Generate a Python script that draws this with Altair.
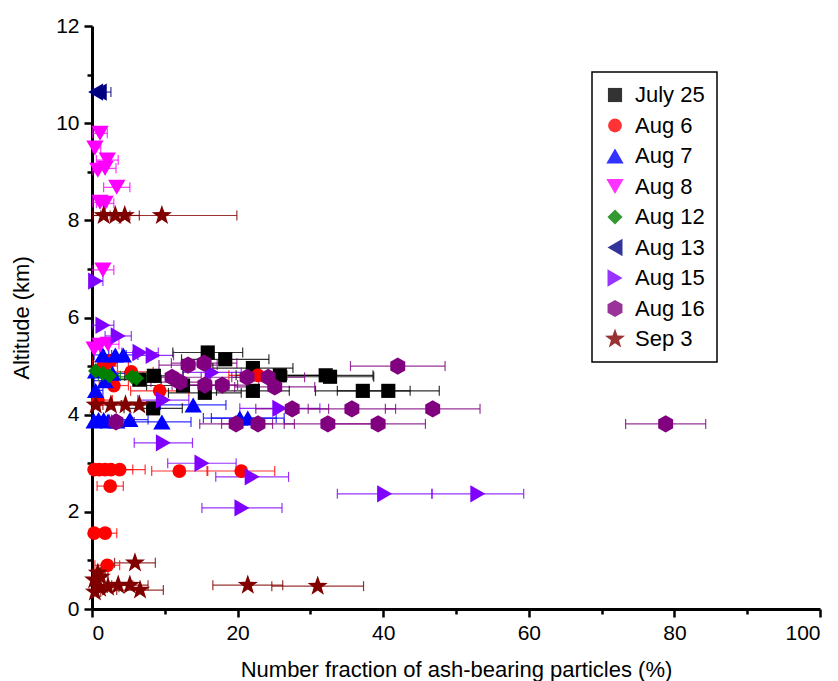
import altair as alt
import pandas as pd

series = ["July 25", "Aug 6", "Aug 7", "Aug 8", "Aug 12", "Aug 13", "Aug 15", "Aug 16", "Sep 3"]
colors = ["#000000", "#ff0000", "#0000ff", "#ff00ff", "#008000", "#000080", "#8000ff", "#800080", "#800000"]
HEX = "M0,-1.3L1.13,-0.65L1.13,0.65L0,1.3L-1.13,0.65L-1.13,-0.65Z"
STAR = ("M0,-1.6L0.376,-0.518L1.522,-0.494L0.608,0.198L0.941,1.294L0,0.64"
        "L-0.941,1.294L-0.608,0.198L-1.522,-0.494L-0.376,-0.518Z")
shapes = ["square", "circle", "triangle-up", "triangle-down", "diamond",
          "triangle-left", "triangle-right", HEX, STAR]
sizes = [200, 190, 300, 300, 230, 300, 300, 175, 175]

jul25_x = [15.9, 18.3, 22.1, 25.8, 32.1, 32.7, 37.2, 40.7, 22.1, 15.5, 8.4, 8.5, 6.5, 12.5]
jul25_y = [5.28, 5.14, 4.96, 4.81, 4.81, 4.78, 4.49, 4.49, 4.49, 4.45, 4.13, 4.80, 4.72, 4.60]
jul25_e = [4.8, 6.0, 5.5, 6.0, 6.5, 6.0, 6.5, 7.0, 5.0, 5.0, 4.0, 4.0, 3.0, 5.0]

aug6_x = [0.3, 1.0, 1.8, 2.6, 3.8, 12.0, 20.5, 2.5, 0.3, 1.8, 2.1, 9.3, 22.8, 1.5, 3.0, 0.8, 5.4, 2.5]
aug6_y = [2.87, 2.87, 2.87, 2.87, 2.87, 2.84, 2.84, 2.53, 1.56, 1.56, 0.90, 4.49, 4.81, 5.00, 4.60, 4.30, 4.88, 5.10]
aug6_e = [1.0, 1.5, 2.0, 3.0, 3.5, 3.8, 4.6, 1.8, 1.0, 1.6, 1.7, 4.0, 4.0, 2.0, 2.0, 2.0, 3.0, 2.5]

aug7_x = [0.3, 0.9, 1.6, 2.2, 3.4, 5.2, 9.6, 20.3, 21.4, 13.9, 0.5, 1.5, 3.2, 4.3, 1.8, 0.5, 2.8]
aug7_y = [3.87, 3.90, 3.90, 3.87, 3.87, 3.90, 3.85, 3.93, 3.93, 4.20, 4.90, 5.23, 5.23, 5.23, 4.70, 4.50, 4.85]
aug7_e = [1.0, 1.5, 1.5, 1.5, 2.0, 2.5, 4.0, 5.0, 5.0, 4.5, 1.0, 1.2, 1.5, 2.0, 1.5, 1.0, 2.0]

aug8_x = [1.1, 0.4, 2.1, 1.8, 0.8, 3.4, 1.1, 1.8, 1.5, 1.1, 2.2, 0.3]
aug8_y = [9.79, 9.49, 9.24, 9.07, 9.03, 8.68, 8.37, 8.35, 6.98, 5.43, 5.45, 5.35]
aug8_e = [1.0, 0.8, 1.5, 1.5, 1.0, 1.8, 1.0, 1.2, 1.5, 1.2, 1.5, 0.8]

aug12_x = [0.5, 1.5, 2.4, 5.5, 6.1]
aug12_y = [4.90, 4.85, 4.80, 4.78, 4.75]
aug12_e = [0.8, 1.0, 1.5, 2.0, 2.5]

aug13_x = [0.5, 1.0]
aug13_y = [10.64, 10.64]
aug13_e = [1.0, 1.6]

aug15_x = [1.5, 3.6, 6.6, 8.4, 16.5, 25.8, 9.8, 9.8, 15.1, 22.0, 20.6, 40.2, 53.0, 0.5]
aug15_y = [5.84, 5.62, 5.28, 5.22, 4.87, 4.13, 4.30, 3.42, 3.00, 2.72, 2.08, 2.37, 2.37, 6.75]
aug15_e = [1.5, 1.8, 2.5, 2.8, 4.0, 5.5, 3.5, 4.0, 4.7, 5.0, 5.5, 6.5, 6.3, 1.0]

aug16_x = [42.0, 46.8, 35.7, 27.5, 39.3, 32.4, 22.8, 19.8, 78.8, 13.2, 15.4, 11.0, 12.1, 15.5, 17.9, 21.3, 24.2, 25.1, 3.3]
aug16_y = [5.00, 4.12, 4.12, 4.12, 3.81, 3.81, 3.81, 3.81, 3.81, 5.02, 5.06, 4.77, 4.67, 4.61, 4.61, 4.77, 4.77, 4.57, 3.85]
aug16_e = [6.5, 6.5, 6.0, 5.0, 6.5, 6.0, 5.0, 5.0, 5.5, 4.0, 4.5, 4.0, 4.0, 4.5, 5.0, 5.0, 5.0, 5.5, 2.5]

sep3_x = [1.6, 3.2, 4.5, 9.6, 0.5, 2.6, 4.6, 6.5, 5.9, 21.4, 31.0, 6.6, 5.2, 3.6, 2.2, 1.1, 0.8, 1.2, 0.4, 0.3]
sep3_y = [8.10, 8.10, 8.10, 8.10, 4.20, 4.20, 4.20, 4.20, 0.95, 0.49, 0.47, 0.39, 0.49, 0.49, 0.45, 0.43, 0.74, 0.66, 0.35, 0.60]
sep3_e = [1.5, 2.0, 2.0, 10.3, 1.0, 1.5, 2.0, 2.5, 2.8, 4.8, 6.3, 3.2, 2.5, 2.0, 1.5, 1.0, 1.0, 1.0, 0.8, 0.5]

all_x = [jul25_x, aug6_x, aug7_x, aug8_x, aug12_x, aug13_x, aug15_x, aug16_x, sep3_x]
all_y = [jul25_y, aug6_y, aug7_y, aug8_y, aug12_y, aug13_y, aug15_y, aug16_y, sep3_y]
all_e = [jul25_e, aug6_e, aug7_e, aug8_e, aug12_e, aug13_e, aug15_e, aug16_e, sep3_e]

rows = []
for i, name in enumerate(series):
    for x, y, e in zip(all_x[i], all_y[i], all_e[i]):
        rows.append({"series": name, "order": i, "x": x, "y": y,
                     "lo": max(x - e, 0), "hi": x + e})
df = pd.DataFrame(rows)

FONT = "Liberation Sans"
xs = alt.Scale(domain=[0, 100], nice=False)
ys = alt.Scale(domain=[0, 12], nice=False)
cs = alt.Scale(domain=series, range=colors)

x_axis = alt.Axis(values=list(range(0, 101, 10)),
                  labelExpr="datum.value % 20 === 0 ? datum.label : ''",
                  tickSize={"condition": {"test": "datum.value % 20 === 0", "value": 8}, "value": 5},
                  title="Number fraction of ash-bearing particles (%)", titlePadding=16)
y_axis = alt.Axis(values=list(range(0, 13, 1)),
                  labelExpr="datum.value % 2 === 0 ? datum.label : ''",
                  tickSize={"condition": {"test": "datum.value % 2 === 0", "value": 8}, "value": 5},
                  title="Altitude (km)", titlePadding=22)

legend = alt.Legend(title=None, orient="none", legendX=500, legendY=46,
                    strokeColor="#000000", fillColor="#ffffff", padding=12,
                    rowPadding=8.5, labelFontSize=22, labelFont=FONT,
                    symbolSize=95, labelOffset=9, symbolStrokeWidth=0)

base = alt.Chart(df)

bars = base.mark_rule(strokeWidth=1.2, opacity=0.8, clip=True).encode(
    x=alt.X("lo:Q", scale=xs, axis=x_axis),
    x2="hi:Q",
    y=alt.Y("y:Q", scale=ys, axis=y_axis),
    color=alt.Color("series:N", scale=cs, sort=series, legend=legend),
)
cap_lo = base.mark_tick(orient="vertical", size=10, thickness=1.2, opacity=0.8, clip=True).encode(
    x=alt.X("lo:Q", scale=xs), y=alt.Y("y:Q", scale=ys),
    color=alt.Color("series:N", scale=cs, sort=series, legend=legend),
)
cap_hi = base.mark_tick(orient="vertical", size=10, thickness=1.2, opacity=0.8, clip=True).encode(
    x=alt.X("hi:Q", scale=xs), y=alt.Y("y:Q", scale=ys),
    color=alt.Color("series:N", scale=cs, sort=series, legend=legend),
)
pts = base.mark_point(filled=True, opacity=1, strokeWidth=0).encode(
    x=alt.X("x:Q", scale=xs),
    y=alt.Y("y:Q", scale=ys),
    color=alt.Color("series:N", scale=cs, legend=legend, sort=series),
    shape=alt.Shape("series:N", scale=alt.Scale(domain=series, range=shapes), legend=legend, sort=series),
    size=alt.Size("series:N", scale=alt.Scale(type="ordinal", domain=series, range=sizes), legend=None),
    order=alt.Order("order:Q"),
)

chart = alt.layer(bars, cap_lo, cap_hi, pts).properties(
    width=728, height=583,
    padding={"left": 92, "top": 26, "right": 18, "bottom": 72},
    autosize=alt.AutoSizeParams(type="none"),
).configure_view(stroke=None).configure_axis(
    grid=False, domainColor="#000000", domainWidth=3, tickColor="#000000", tickWidth=2.5,
    labelFont=FONT, labelFontSize=21, labelColor="#000000", labelPadding=5,
    titleFont=FONT, titleFontSize=22, titleFontWeight="normal", titleColor="#000000",
).configure_legend(strokeWidth=1.5)

chart.save("out.html", embed_options={"renderer": "svg", "actions": False})
